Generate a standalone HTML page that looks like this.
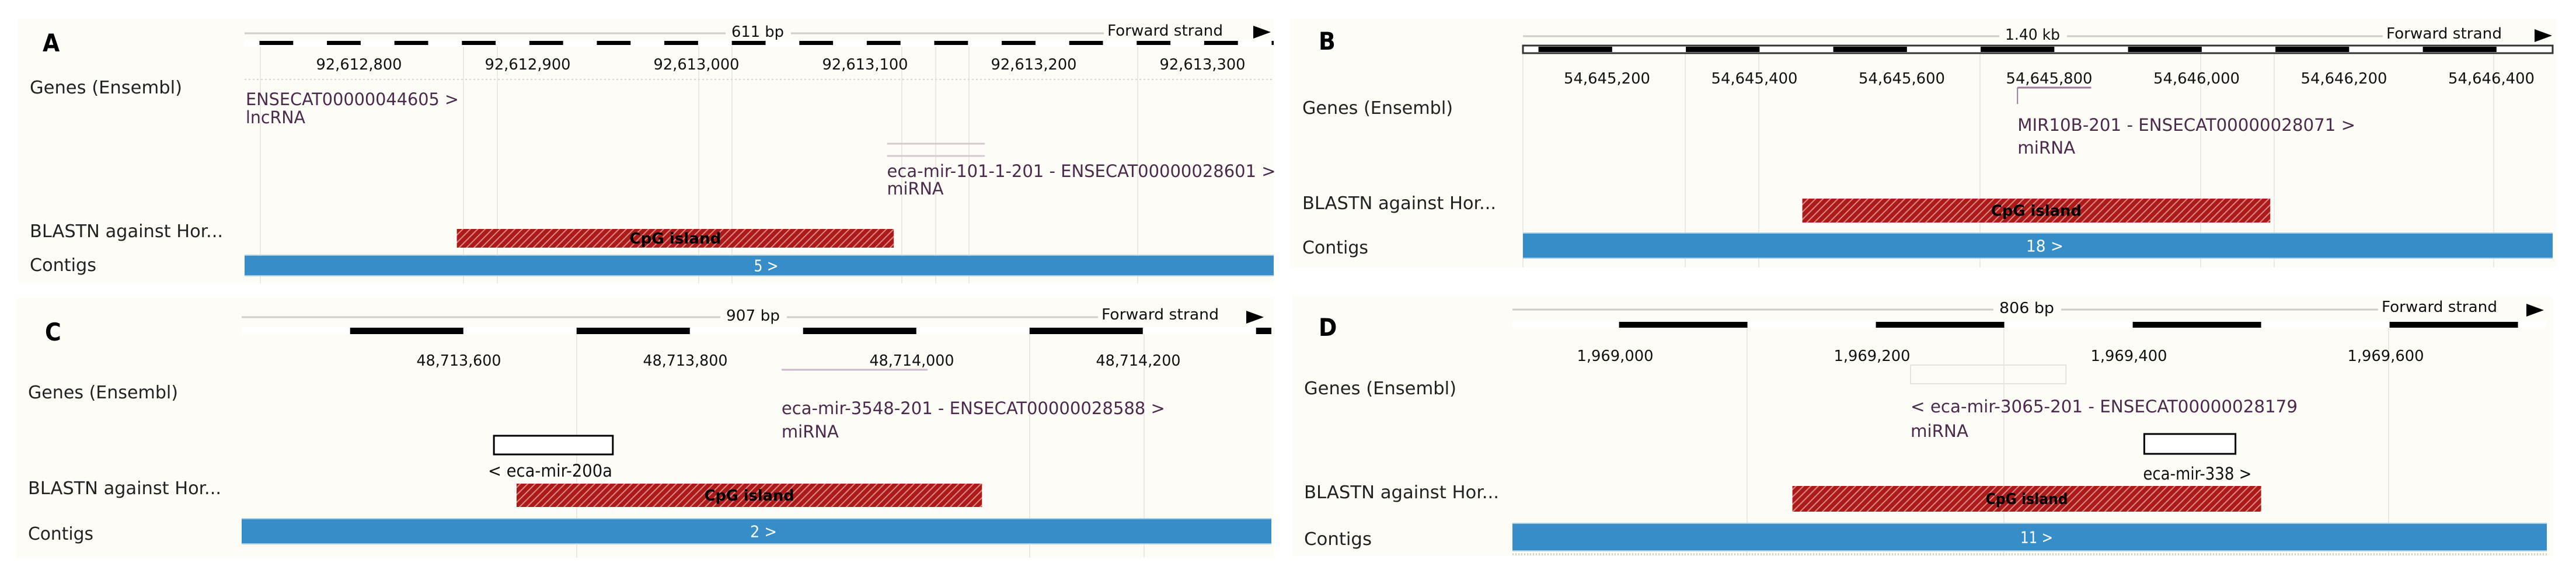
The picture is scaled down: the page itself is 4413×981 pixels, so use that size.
<!DOCTYPE html>
<html><head><meta charset="utf-8">
<style>
html,body{margin:0;padding:0;background:#fff;}
svg{display:block;}
text{font-family:"DejaVu Sans Condensed","DejaVu Sans","Liberation Sans",sans-serif;}
</style></head>
<body>
<svg id="fig" xmlns="http://www.w3.org/2000/svg" width="4413" height="981" viewBox="0 0 4413 981">
<defs>
<pattern id="hatch" patternUnits="userSpaceOnUse" width="9" height="9" patternTransform="rotate(45)">
<rect width="9" height="9" fill="#ad1a1a"/>
<rect x="0" y="0" width="2" height="9" fill="#d98a86"/>
</pattern>
</defs>
<rect width="4413" height="981" fill="#ffffff"/>
</svg>
<script>
// ---- data arrays (top level) ----
const tickValuesA = [92612800, 92612900, 92613000, 92613100, 92613200, 92613300];
const tickValuesB = [54645200, 54645400, 54645600, 54645800, 54646000, 54646200, 54646400];
const tickValuesC = [48713600, 48713800, 48714000, 48714200];
const tickValuesD = [1969000, 1969200, 1969400, 1969600];
const cpgA = [92612858, 92613117];
const cpgB = [54645465, 54646100];
const cpgC = [48713651, 48714062];
const cpgD = [1969138, 1969503];
const contigLabels = ['5 >', '18 >', '2 >', '11 >'];
const sizeLabels = ['611 bp', '1.40 kb', '907 bp', '806 bp'];
const geneA = [92613113, 92613171];
const geneB = [54645757, 54645857];
const geneC = [48713885, 48714014];
const geneD = [1969230, 1969351];
const boxC = [48713631, 48713736];
const boxD = [1969412, 1969483];

const svg = document.getElementById('fig');
const NS = 'http://www.w3.org/2000/svg';
function el(tag, attrs, name) {
  const e = document.createElementNS(NS, tag);
  for (const k in attrs) e.setAttribute(k, attrs[k]);
  
  
  svg.appendChild(e);
  return e;
}
function txt(x, y, s, size, w, opts, name) {
  const a = Object.assign({x: x, y: y, 'font-size': size, fill: '#222'}, opts || {});
  if (w) { a.textLength = w; a.lengthAdjust = 'spacingAndGlyphs'; }
  const t = el('text', a, name);
  t.textContent = s;
  return t;
}

const panels = [
 {letter:'A', ticks:tickValuesA, cpg:cpgA, gene:geneA, ref:92612800, refX:615, ppb:2.89,
  bx:31, by:32, bw:2151, bh:453, lx:73, ly:88, x0:419, x1:2182,
  scaleY:57, sizeX:1253, sizeW:90, fsX:1897, fsW:198, arrX:2147, arrY:55,
  stripY:68, stripH:12, segY:70, segH:7, segStart:92612741, segLen:20, segPer:40, boxed:false,
  tickY:119, tickW:147, dotY:136, grid:[446,794,852,1197,1254,1545,1603,1660,1949],
  genesY:160, genesW:261, blastY:406, blastW:331, contY:464, contW:114,
  cpgY:392, cpgH:32, cpgTW:157, cbY:438, cbH:33, cbW:42},
 {letter:'B', ticks:tickValuesB, cpg:cpgB, gene:geneB, ref:54645200, refX:2753, ppb:1.2625,
  bx:2211, by:32, bw:2169, bh:426, lx:2259, ly:85, x0:2609, x1:4373,
  scaleY:62, sizeX:3435, sizeW:94, fsX:4088, fsW:198, arrX:4342, arrY:61,
  stripY:78, stripH:13, segY:80, segH:9, segStart:54645107, segLen:100, segPer:200, boxed:true,
  tickY:143, tickW:148, dotY:null, grid:[2609,2887,3013,3392,3770,3896,4272],
  genesY:195, genesW:258, blastY:358, blastW:332, contY:434, contW:113,
  cpgY:340, cpgH:41, cpgTW:155, cbY:400, cbH:41, cbW:64},
 {letter:'C', ticks:tickValuesC, cpg:cpgC, gene:geneC, ref:48713600, refX:786, ppb:1.94,
  bx:28, by:510, bw:2154, bh:445, lx:77, ly:583, x0:414, x1:2178,
  scaleY:543, sizeX:1244, sizeW:92, fsX:1887, fsW:201, arrX:2135, arrY:543,
  stripY:560, stripH:12, segY:561, segH:11, segStart:48713504, segLen:100, segPer:200, boxed:false,
  tickY:626, tickW:145, dotY:null, grid:[988,1764,1960],
  genesY:682, genesW:257, blastY:846, blastW:331, contY:924, contW:112,
  cpgY:828, cpgH:40, cpgTW:154, cbY:889, cbH:41, cbW:46},
 {letter:'D', ticks:tickValuesD, cpg:cpgD, gene:geneD, ref:1969000, refX:2767, ppb:2.2,
  bx:2214, by:507, bw:2159, bh:445, lx:2259, ly:575, x0:2591, x1:4363,
  scaleY:530, sizeX:3425, sizeW:94, fsX:4080, fsW:198, arrX:4328, arrY:531,
  stripY:549, stripH:12, segY:551, segH:10, segStart:1969003, segLen:100, segPer:200, boxed:false,
  tickY:618, tickW:131, dotY:null, grid:[2993,3433,4092],
  genesY:675, genesW:261, blastY:853, blastW:334, contY:933, contW:116,
  cpgY:832, cpgH:44, cpgTW:141, cbY:897, cbH:45, cbW:56}
];

panels.forEach(function(p, i) {
  const xs = function(bp) { return p.refX + (bp - p.ref) * p.ppb; };
  const id = p.letter.toLowerCase();
  el('rect', {x:p.bx, y:p.by, width:p.bw, height:p.bh, fill:'#fdfcf7'}, 'panel-' + id + '-background');
  p.grid.forEach(function(gx) {
    el('line', {x1:gx, x2:gx, y1:p.stripY + p.stripH, y2:p.by + p.bh, stroke:'#ebe9e4', 'stroke-width':2}, 'grid-line');
  });
  txt(p.lx, p.ly, p.letter, 42, null, {'font-weight':'bold', fill:'#000', 'font-family':'"Liberation Sans",sans-serif'}, 'panel-label-' + id);
  el('line', {x1:p.x0, x2:p.sizeX - 10, y1:p.scaleY, y2:p.scaleY, stroke:'#cfcdc8', 'stroke-width':3}, 'scale-line-left');
  el('line', {x1:p.sizeX + p.sizeW + 12, x2:p.fsX - 6, y1:p.scaleY, y2:p.scaleY, stroke:'#cfcdc8', 'stroke-width':3}, 'scale-line-right');
  txt(p.sizeX, p.scaleY + 6, sizeLabels[i], 26, p.sizeW, {fill:'#111'}, 'region-size-label');
  txt(p.fsX, p.scaleY + 4, 'Forward strand', 26, p.fsW, {fill:'#111'}, 'forward-strand-label');
  el('polygon', {points:(p.arrX) + ',' + (p.arrY - 11) + ' ' + (p.arrX + 30) + ',' + p.arrY + ' ' + (p.arrX) + ',' + (p.arrY + 11), fill:'#000'}, 'strand-arrow');
  el('rect', {x:p.x0, y:p.stripY, width:p.x1 - p.x0, height:p.stripH, fill:'#ffffff', stroke: p.boxed ? '#333' : 'none', 'stroke-width': p.boxed ? 3 : 0}, 'scale-bar-strip');
  for (let s = p.segStart; xs(s) < p.x1; s += p.segPer) {
    const sx = Math.max(xs(s), p.x0), ex = Math.min(xs(s + p.segLen), p.x1);
    el('rect', {x:sx, y:p.segY, width:ex - sx, height:p.segH, fill:'#000'}, 'scale-bar-segment');
  }
  p.ticks.forEach(function(v) {
    txt(xs(v), p.tickY, v.toLocaleString('en-US'), 26, p.tickW, {'text-anchor':'middle', fill:'#111'}, 'tick-label');
  });
  if (p.dotY) el('line', {x1:p.x0, x2:p.x1, y1:p.dotY, y2:p.dotY, stroke:'#d8d6d0', 'stroke-width':2, 'stroke-dasharray':'3,4'}, 'track-separator');
  txt(p.bx + 20, p.genesY, 'Genes (Ensembl)', 30, p.genesW, {}, 'genes-track-label');
  txt(p.bx + 20, p.blastY, 'BLASTN against Hor...', 30, p.blastW, {}, 'blastn-track-label');
  txt(p.bx + 20, p.contY, 'Contigs', 30, p.contW, {}, 'contigs-track-label');
  const c0 = xs(p.cpg[0]), c1 = xs(p.cpg[1]);
  el('rect', {x:c0, y:p.cpgY, width:c1 - c0, height:p.cpgH, fill:'url(#hatch)'}, 'cpg-island-bar');
  txt((c0 + c1) / 2, p.cpgY + p.cpgH / 2 + 9, 'CpG island', 26, p.cpgTW, {'text-anchor':'middle', 'font-weight':'bold', fill:'#000'}, 'cpg-island-label');
  el('rect', {x:p.x0, y:p.cbY - 2, width:p.x1 - p.x0, height:p.cbH + 4, fill:'#a9cfe8'}, 'contig-bar-edge');
  el('rect', {x:p.x0, y:p.cbY, width:p.x1 - p.x0, height:p.cbH, fill:'#368dc7'}, 'contig-bar');
  txt((p.x0 + p.x1) / 2 + 12, p.cbY + p.cbH / 2 + 10, contigLabels[i], 28, p.cbW, {'text-anchor':'middle', fill:'#fff'}, 'contig-label');
});

const gc = '#4b2a4b';
function xsOf(i) { const p = panels[i]; return function(bp) { return p.refX + (bp - p.ref) * p.ppb; }; }
let xa = xsOf(0);
txt(421, 180, 'ENSECAT00000044605 >', 29, 365, {fill:gc}, 'gene-label-lncrna');
txt(421, 211, 'lncRNA', 29, 102, {fill:gc}, 'gene-biotype-lncrna');
el('line', {x1:xa(geneA[0]), x2:xa(geneA[1]), y1:246, y2:246, stroke:'#d6c8d2', 'stroke-width':3}, 'gene-line-mir101');
el('line', {x1:xa(geneA[0]), x2:xa(geneA[1]), y1:267, y2:267, stroke:'#d6c8d2', 'stroke-width':3}, 'gene-line-mir101');
txt(xa(geneA[0]), 303, 'eca-mir-101-1-201 - ENSECAT00000028601 >', 29, 666, {fill:gc}, 'gene-label-mir101');
txt(xa(geneA[0]), 333, 'miRNA', 29, 97, {fill:gc}, 'gene-biotype-mir101');
let xb = xsOf(1);
el('line', {x1:xb(geneB[0]), x2:xb(geneB[1]), y1:150, y2:150, stroke:'#9a7c98', 'stroke-width':3}, 'gene-line-mir10b');
el('line', {x1:xb(geneB[0]), x2:xb(geneB[0]), y1:150, y2:178, stroke:'#9a7c98', 'stroke-width':2}, 'gene-line-mir10b-stem');
txt(xb(geneB[0]), 224, 'MIR10B-201 - ENSECAT00000028071 >', 29, 579, {fill:gc}, 'gene-label-mir10b');
txt(xb(geneB[0]), 263, 'miRNA', 29, 99, {fill:gc}, 'gene-biotype-mir10b');
let xc = xsOf(2);
el('line', {x1:xc(geneC[0]), x2:xc(geneC[1]), y1:633, y2:633, stroke:'#cbb8c8', 'stroke-width':3}, 'gene-line-mir3548');
txt(xc(geneC[0]), 709, 'eca-mir-3548-201 - ENSECAT00000028588 >', 29, 657, {fill:gc}, 'gene-label-mir3548');
txt(xc(geneC[0]), 749, 'miRNA', 29, 98, {fill:gc}, 'gene-biotype-mir3548');
el('rect', {x:xc(boxC[0]), y:746, width:xc(boxC[1]) - xc(boxC[0]), height:32, fill:'#fff', stroke:'#000', 'stroke-width':3}, 'blast-hit-mir200a');
txt(836, 816, '< eca-mir-200a', 29, 213, {fill:'#111'}, 'blast-label-mir200a');
let xd = xsOf(3);
el('rect', {x:xd(geneD[0]), y:625, width:xd(geneD[1]) - xd(geneD[0]), height:32, fill:'none', stroke:'#e6e3de', 'stroke-width':2}, 'gene-outline-mir3065');
txt(xd(geneD[0]), 706, '< eca-mir-3065-201 - ENSECAT00000028179', 29, 663, {fill:gc}, 'gene-label-mir3065');
txt(xd(geneD[0]), 748, 'miRNA', 29, 99, {fill:gc}, 'gene-biotype-mir3065');
el('rect', {x:xd(boxD[0]), y:743, width:xd(boxD[1]) - xd(boxD[0]), height:34, fill:'#fff', stroke:'#000', 'stroke-width':3}, 'blast-hit-mir338');
txt(xd(boxD[0]) - 2, 821, 'eca-mir-338 >', 29, 186, {fill:'#111'}, 'blast-label-mir338');
el('line', {x1:2591, x2:4363, y1:949, y2:949, stroke:'#d9d0c8', 'stroke-width':4, 'stroke-dasharray':'2,3'}, 'sequence-strip');
</script>
</body></html>
